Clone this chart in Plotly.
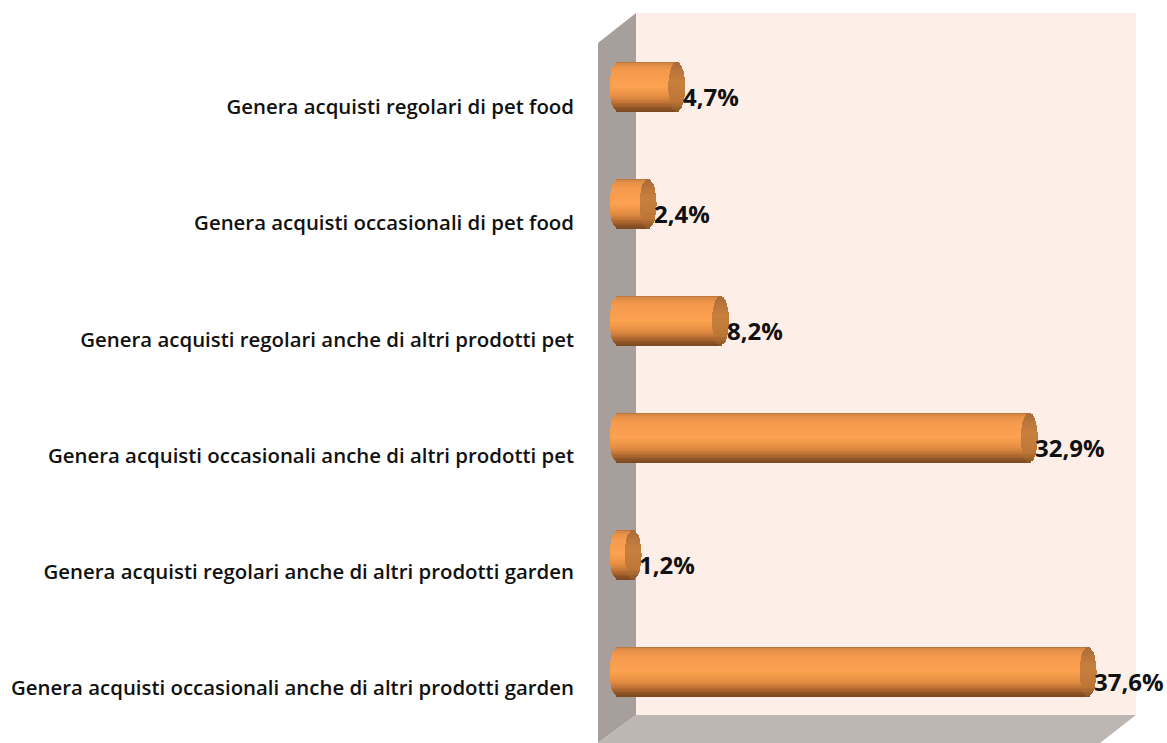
import math
import plotly.graph_objects as go

categories = [
    "Genera acquisti regolari di pet food",
    "Genera acquisti occasionali di pet food",
    "Genera acquisti regolari anche di altri prodotti pet",
    "Genera acquisti occasionali anche di altri prodotti pet",
    "Genera acquisti regolari anche di altri prodotti garden",
    "Genera acquisti occasionali anche di altri prodotti garden",
]
values = [4.7, 2.4, 8.2, 32.9, 1.2, 37.6]
value_labels = ["4,7%", "2,4%", "8,2%", "32,9%", "1,2%", "37,6%"]

W, H = 1167, 743
LEFT = 575
ZERO_PX, UNIT_PX = 618.0, 12.5
CAP = 0.68          # half width of cylinder end, in axis units
BAR_WIDTH = 0.42
N = 36

def lerp_stops(stops, t):
    for (t0, c0), (t1, c1) in zip(stops, stops[1:]):
        if t <= t1:
            f = (t - t0) / (t1 - t0)
            return "rgb(%d,%d,%d)" % tuple(round(a + (b - a) * f) for a, b in zip(c0, c1))
    return "rgb(%d,%d,%d)" % stops[-1][1]

BODY = [(0, (176, 110, 58)), (0.05, (226, 142, 70)), (0.2, (246, 155, 78)), (0.5, (252, 162, 80)),
        (0.72, (226, 140, 66)), (0.88, (170, 100, 45)), (1, (120, 72, 32))]
END = [(0, (170, 108, 55)), (0.4, (200, 128, 62)), (0.8, (190, 118, 55)), (1, (140, 86, 38))]

fig = go.Figure()
for i in range(N):
    t = (i + 0.5) / N
    off = -BAR_WIDTH / 2 + i * BAR_WIDTH / N
    bulge = CAP * math.sqrt(max(0, 1 - (2 * t - 1) ** 2))
    fig.add_bar(y=categories, x=[v + bulge for v in values], base=[-bulge] * 6, orientation="h",
                width=BAR_WIDTH / N * 1.04, offset=off,
                marker=dict(color=lerp_stops(BODY, t), line=dict(width=0)), hoverinfo="skip", showlegend=False)
for i in range(N):
    t = (i + 0.5) / N
    off = -BAR_WIDTH / 2 + i * BAR_WIDTH / N
    bulge = CAP * math.sqrt(max(0, 1 - (2 * t - 1) ** 2))
    fig.add_bar(y=categories, x=[2 * bulge] * 6, base=[v - bulge for v in values], orientation="h",
                width=BAR_WIDTH / N * 1.04, offset=off,
                marker=dict(color=lerp_stops(END, t), line=dict(width=0)), hoverinfo="skip", showlegend=False)

# invisible trace carrying the category tick labels on the second axis
fig.add_scatter(y=categories, x=[0] * 6, yaxis="y2", mode="markers", marker=dict(opacity=0),
                hoverinfo="skip", showlegend=False)

def P(px, py):
    return (px - LEFT) / (W - LEFT), 1 - py / H

def path(points):
    return "M " + " L ".join("%.5f,%.5f" % P(*p) for p in points) + " Z"

shapes = []
for pts, col in [
    ([(636, 13), (1136, 13), (1136, 715), (636, 715)], "#FDEFE8"),
    ([(598, 43), (636, 13), (636, 715), (598, 743)], "#A69F9B"),
    ([(636, 715), (1136, 715), (1100, 743), (598, 743)], "#BEB6B3"),
]:
    shapes.append(dict(type="path", xref="paper", yref="paper", path=path(pts),
                       fillcolor=col, line=dict(width=0), layer="below"))

annotations = [
    dict(x=v, y=c, xref="x", yref="y", text="<b>%s</b>" % l, showarrow=False, xanchor="left",
         xshift=4, yshift=-9, font=dict(family="Open Sans", size=24, color="#111111"))
    for v, c, l in zip(values, categories, value_labels)
]

fig.update_layout(
    width=W, height=H, margin=dict(l=LEFT, r=0, t=0, b=0),
    paper_bgcolor="white", plot_bgcolor="rgba(0,0,0,0)", barmode="overlay", bargap=0,
    shapes=shapes, annotations=annotations,
    xaxis=dict(range=[(LEFT - ZERO_PX) / UNIT_PX, (W - ZERO_PX) / UNIT_PX], visible=False, fixedrange=True),
    yaxis=dict(type="category", categoryorder="array", categoryarray=categories,
               range=[(H - 87) / 117, -87 / 117], visible=False, fixedrange=True),
    yaxis2=dict(type="category", categoryorder="array", categoryarray=categories, overlaying="y", side="left",
                anchor="x", range=[(H - 107) / 116.2, -107 / 116.2], showgrid=False, zeroline=False,
                showline=False, ticks="", fixedrange=True,
                tickfont=dict(family="Open Sans", size=20.4, weight=600, color="#111111")),
)
fig.write_html("out.html", config=dict(displayModeBar=False),
               post_script="document.body.style.margin='0';")
